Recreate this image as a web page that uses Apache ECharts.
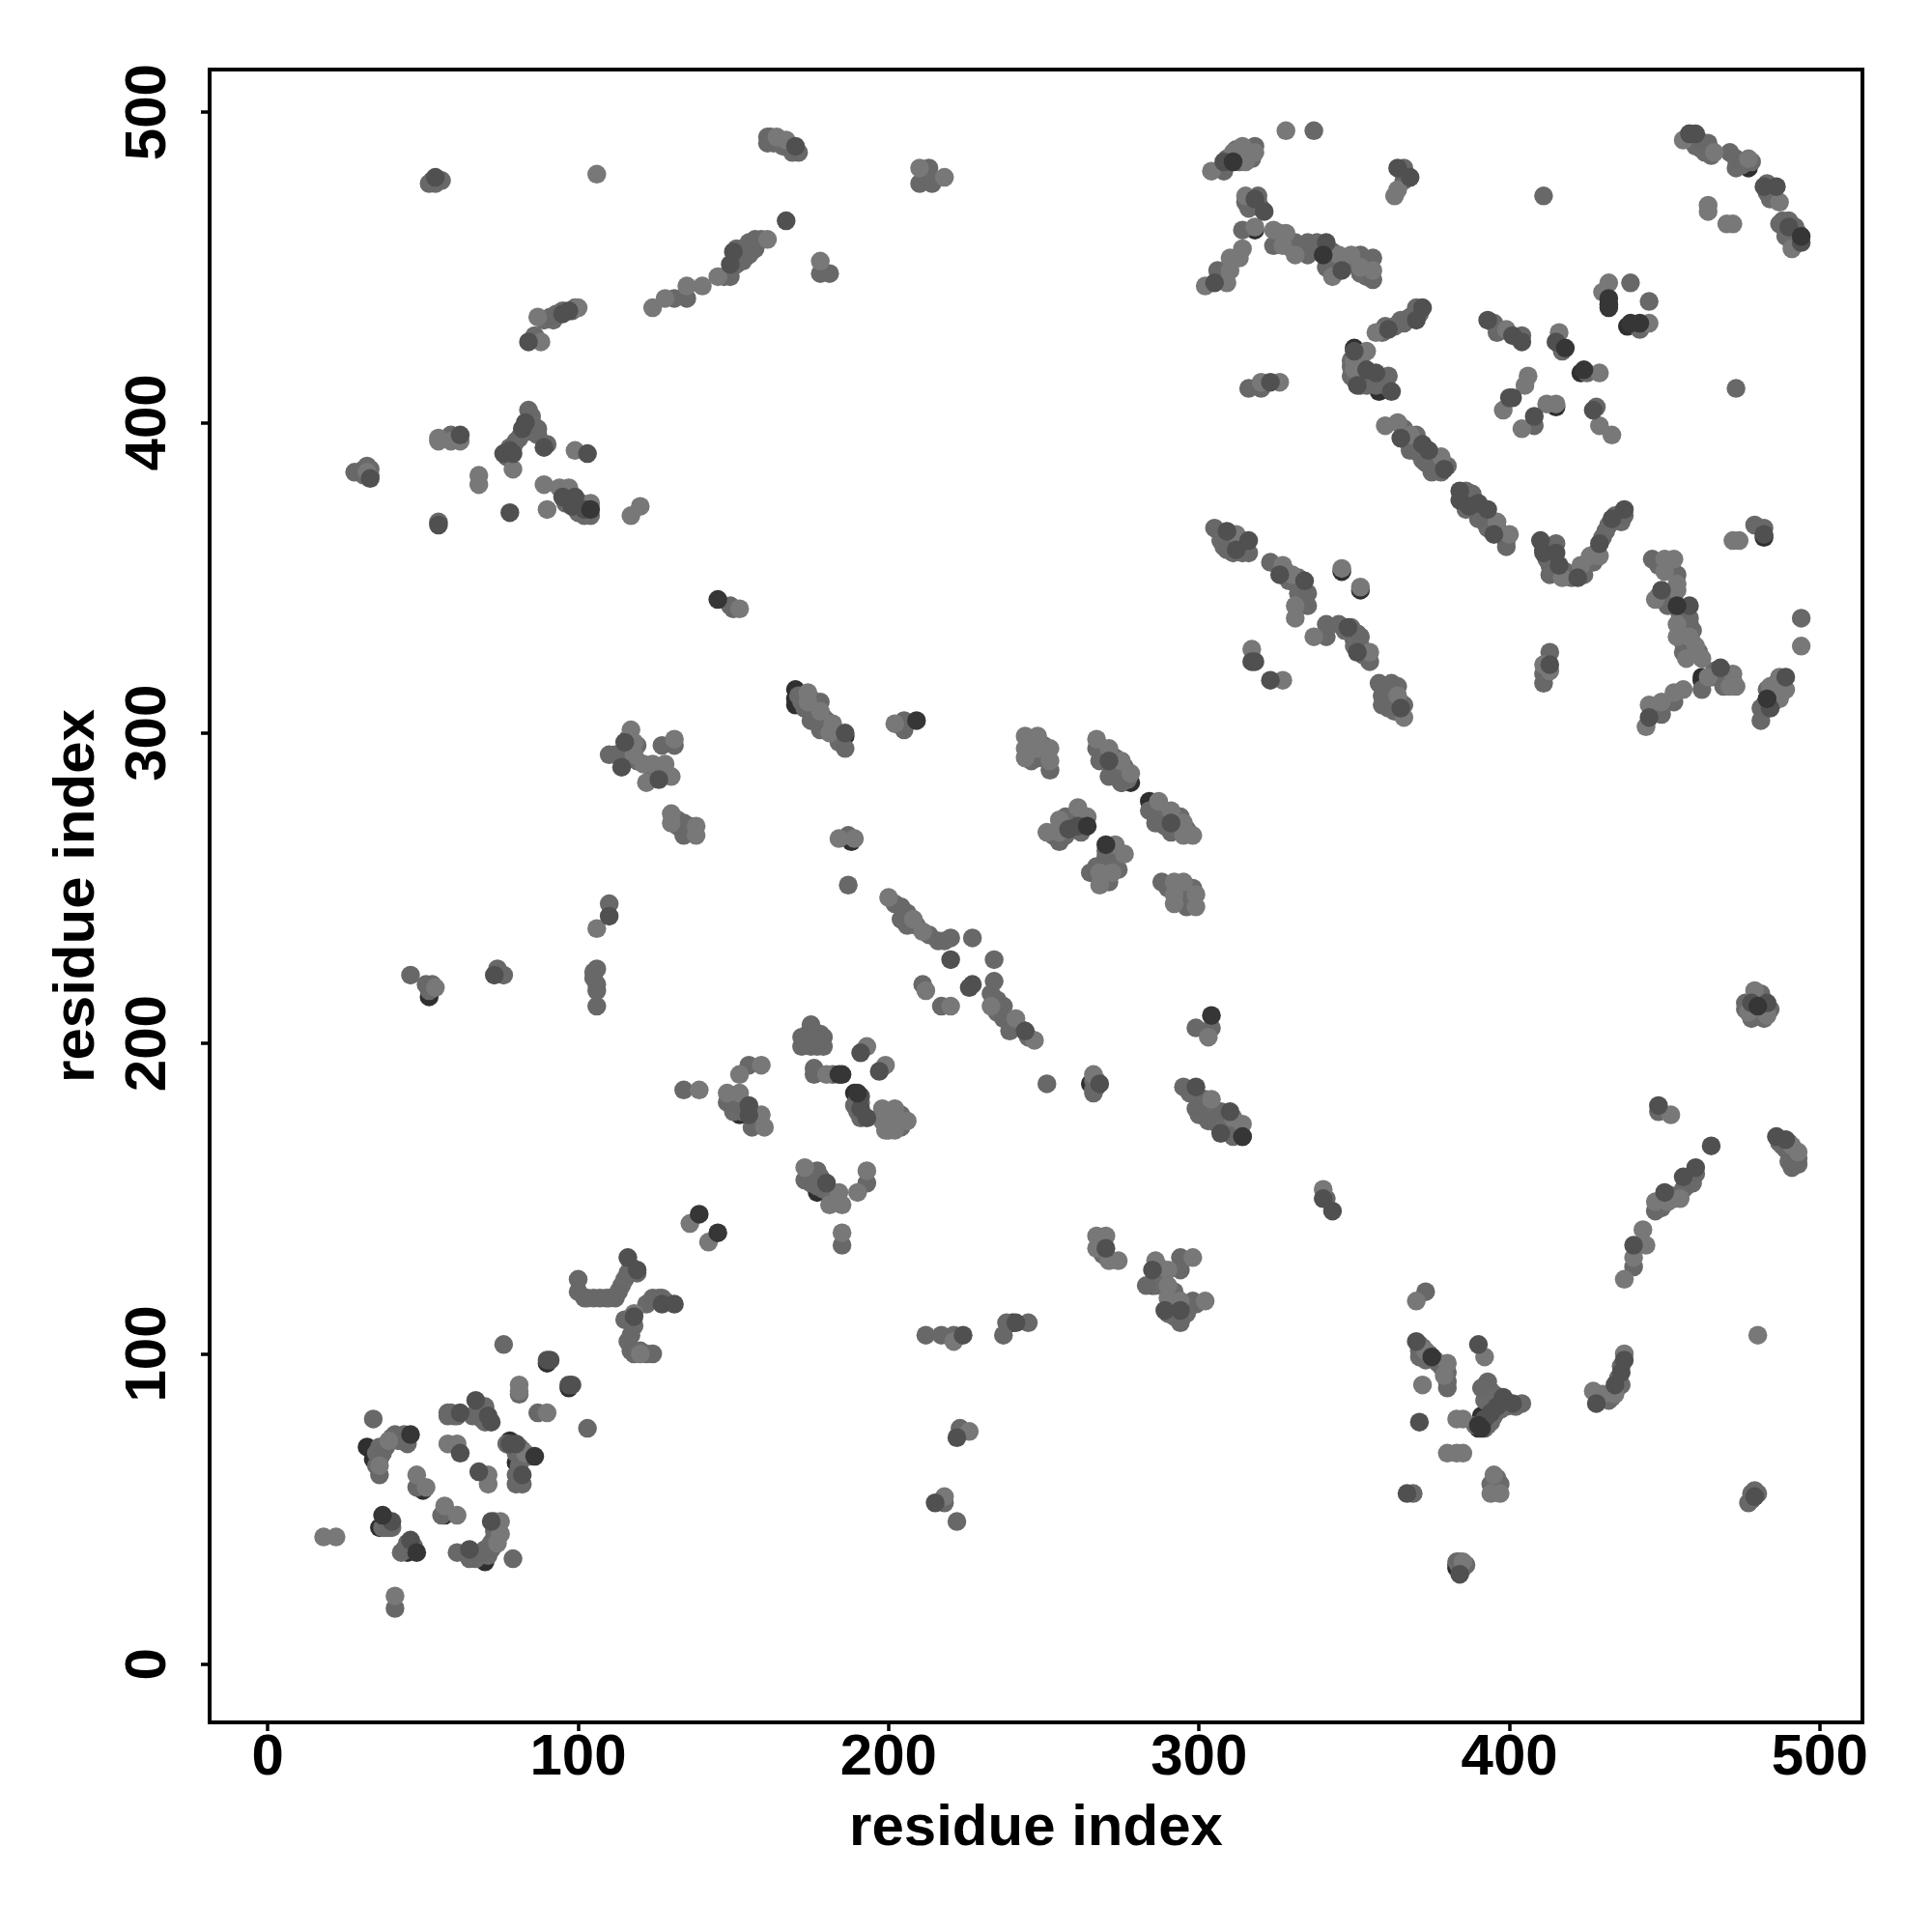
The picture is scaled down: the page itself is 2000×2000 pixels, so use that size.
<!DOCTYPE html>
<html><head><meta charset="utf-8">
<style>html,body{margin:0;padding:0;background:#fff}#c{width:2000px;height:2000px}</style>
<script src="https://cdn.jsdelivr.net/npm/echarts@6/dist/echarts.min.js"></script>
</head><body><div id="c"></div>
<script>
const tickValues=[0,100,200,300,400,500];
const axisTitle="residue index";
const pointsUnder=[[32,70],[34,66],[36,44],[45,36],[50,56],[57,48],[70,33],[69,34],[78,72],[80,65],[90,97],[97,89],[177,152],[152,177],[189,184],[170,314],[170,311],[170,309],[173,308],[186,299],[275,284],[278,284],[284,278],[285,276],[314,170],[318,462],[358,410],[350,424],[372,102],[373,100],[383,31],[383,32],[390,76],[391,80],[432,438],[415,405],[438,431],[462,317],[462,318],[350,330],[330,349],[458,493],[346,352],[352,346],[477,482],[423,416],[188,265],[285,122],[240,110],[265,187],[487,169],[482,363],[52,215],[30,384],[411,359]];
const pointsFill=[[40,73],[42,72],[43,72],[45,73],[38,70],[36,70],[35,68],[36,66],[59,81],[60,80],[61,80],[68,83],[69,79],[70,78],[70,83],[79,70],[81,70],[82,69],[84,67],[81,64],[81,60],[37,44],[38,46],[40,44],[46,37],[47,38],[45,39],[43,36],[67,34],[68,35],[70,37],[71,35],[72,39],[73,41],[74,44],[73,43],[73,46],[103,118],[105,118],[109,118],[110,118],[114,122],[115,124],[117,128],[117,110],[116,104],[118,100],[120,101],[122,100],[126,118],[128,117],[118,109],[122,116],[85,402],[84,398],[85,397],[85,400],[81,395],[78,392],[77,389],[79,392],[96,374],[97,376],[99,373],[101,374],[103,371],[100,371],[102,370],[104,370],[89,433],[92,433],[93,435],[95,436],[98,436],[99,437],[86,428],[147,447],[151,451],[152,453],[155,454],[151,456],[155,458],[159,459],[163,490],[165,490],[166,489],[169,487],[162,492],[165,491],[53,478],[54,477],[56,478],[31,385],[32,386],[33,385],[33,383],[31,383],[171,312],[172,310],[175,311],[176,308],[177,306],[179,305],[180,304],[183,300],[184,297],[176,304],[173,312],[266,188],[267,186],[267,188],[266,185],[297,184],[300,182],[301,178],[303,179],[305,176],[306,174],[308,174],[309,172],[312,172],[313,171],[300,177],[302,180],[383,33],[385,31],[384,31],[386,32],[476,211],[478,210],[482,211],[484,211],[479,215],[481,216],[478,208],[482,208],[478,53],[480,55],[479,56],[487,168],[488,167],[490,168],[491,165],[492,162],[493,161],[490,162],[491,163],[371,103],[372,102],[374,100],[376,98],[371,99],[373,98],[377,97],[379,96],[380,94],[380,91],[393,77],[394,78],[395,80],[397,82],[399,83],[402,83],[397,85],[395,87],[392,85],[394,88],[389,77],[392,76],[396,58],[394,58],[397,58],[396,60],[435,92],[436,90],[433,86],[432,85],[449,147],[452,151],[453,150],[457,154],[458,156],[459,155],[459,491],[462,490],[463,487],[460,489],[462,488],[465,486],[474,484],[475,483],[473,482],[478,484],[483,477],[484,473],[485,475],[484,472],[489,463],[490,461],[491,461],[492,459],[490,465],[493,461],[489,460],[492,458],[412,356],[414,358],[413,360],[417,352],[415,352],[418,352],[420,350],[424,351],[427,355],[428,358],[430,363],[432,367],[434,370],[436,368],[385,376],[386,378],[387,376],[388,374],[389,372],[391,371],[392,368],[393,366],[394,368],[396,366],[397,364],[399,362],[386,372],[390,371],[366,398],[367,394],[370,392],[371,390],[372,388],[374,388],[376,387],[375,384],[377,386],[380,386],[378,384],[370,396],[349,420],[351,422],[349,418],[352,419],[352,415],[355,415],[353,413],[356,414],[358,413],[360,412],[360,414],[352,412],[349,415],[350,414],[359,429],[363,431],[365,433],[368,434],[371,435],[360,431],[316,472],[317,470],[319,471],[320,469],[316,469],[326,459],[329,457],[330,456],[333,456],[336,456],[339,456],[342,452],[344,450],[347,452],[350,451],[354,452],[354,450],[343,455],[352,448],[354,447],[326,461],[313,486],[315,486],[316,487],[317,485],[313,484],[309,485],[312,488],[307,362],[310,363],[311,361],[313,360],[314,362],[308,360],[311,358],[314,358],[328,352],[329,349],[332,350],[333,347],[332,345],[333,343],[347,333],[349,334],[351,332],[350,328],[352,328],[353,325],[350,331],[360,315],[361,312],[363,310],[361,308],[362,312],[363,307],[366,309],[364,315],[455,338],[456,340],[457,339],[455,333],[456,329],[456,326],[459,329],[459,326],[456,332],[457,335],[459,333],[461,326],[448,344],[450,343],[452,342],[452,345],[453,344],[451,354],[448,354],[452,354],[465,318],[469,319],[470,316],[469,315],[472,317],[466,320],[483,314],[485,312],[486,316],[488,316],[485,310],[482,309],[486,314],[246,297],[246,293],[250,293],[250,296],[246,291],[269,293],[272,288],[273,292],[276,287],[277,285],[273,286],[276,289],[286,276],[288,275],[288,272],[292,272],[293,269],[296,269],[294,273],[289,270],[257,271],[259,271],[260,270],[262,272],[262,268],[253,267],[257,267],[257,273],[270,262],[271,258],[269,254],[271,252],[267,257],[274,256],[271,261],[294,249],[294,246],[297,246],[298,250],[290,250],[116,295],[119,291],[112,293],[115,291],[116,298],[125,288],[128,287],[124,286],[119,296],[132,270],[136,268],[136,270],[132,272],[202,245],[206,242],[209,238],[213,235],[206,238],[218,233],[235,214],[235,210],[239,207],[242,205],[245,202],[174,203],[174,201],[176,203],[177,199],[178,203],[200,177],[200,174],[204,177],[204,173],[200,172],[175,158],[178,157],[179,153],[182,151],[183,149],[175,155],[150,182],[150,178],[153,178],[157,175],[158,174],[190,182],[191,181],[190,178],[287,128],[288,124],[286,122],[292,120],[296,116],[292,115],[296,113],[299,116],[290,113],[292,112],[268,136],[269,136],[269,132],[106,219],[105,223],[52,217],[53,219]];
const pointsMid=[[76,103],[81,87],[87,81],[103,76],[34,79],[36,61],[35,64],[37,68],[41,74],[44,74],[45,71],[58,81],[58,80],[66,80],[69,81],[80,68],[80,58],[82,58],[80,61],[77,71],[48,57],[56,48],[39,44],[38,44],[44,37],[61,36],[65,36],[65,34],[69,36],[72,37],[79,34],[41,18],[100,124],[100,120],[102,118],[107,118],[112,118],[113,120],[116,126],[115,111],[117,106],[117,101],[124,100],[119,126],[127,118],[124,118],[134,185],[148,181],[152,180],[155,193],[156,173],[175,206],[172,202],[172,199],[175,199],[179,202],[179,199],[177,201],[176,192],[176,190],[182,190],[189,180],[191,176],[173,156],[177,159],[177,154],[193,155],[185,135],[46,222],[51,219],[74,224],[76,222],[106,224],[105,221],[106,217],[106,212],[110,245],[52,477],[55,478],[161,492],[171,487],[161,490],[168,489],[213,482],[210,477],[214,477],[212,480],[157,459],[157,456],[153,456],[153,452],[149,447],[135,440],[131,440],[178,448],[181,448],[91,434],[28,384],[59,396],[84,404],[87,398],[80,394],[90,393],[87,396],[100,373],[55,368],[149,341],[150,340],[173,308],[175,304],[178,310],[178,301],[186,295],[205,304],[205,301],[110,293],[113,293],[127,296],[131,296],[134,271],[134,267],[187,267],[187,251],[204,244],[204,240],[216,233],[220,234],[227,234],[234,227],[234,220],[233,216],[237,212],[237,208],[239,204],[211,219],[217,212],[252,288],[248,292],[267,295],[268,291],[271,286],[275,284],[284,275],[286,271],[291,268],[255,265],[270,260],[265,255],[270,257],[288,252],[296,248],[296,244],[299,205],[304,205],[251,187],[266,184],[295,186],[299,179],[302,182],[303,175],[307,178],[311,170],[341,150],[283,122],[294,131],[294,127],[294,110],[298,117],[237,106],[238,110],[245,110],[212,106],[217,106],[221,106],[223,76],[218,52],[222,46],[371,101],[378,96],[380,89],[373,120],[393,91],[391,89],[404,84],[369,55],[384,33],[436,96],[440,128],[447,146],[456,153],[460,158],[448,178],[491,160],[493,163],[489,166],[476,213],[478,55],[477,52],[337,494],[308,481],[318,489],[366,482],[366,478],[411,473],[319,473],[315,471],[318,470],[314,462],[306,449],[324,457],[331,458],[335,458],[335,454],[338,458],[341,450],[352,454],[356,453],[356,446],[370,437],[366,432],[361,415],[354,412],[357,412],[316,411],[320,411],[395,432],[396,429],[404,428],[417,423],[408,399],[461,491],[464,490],[471,487],[473,485],[483,474],[488,465],[492,463],[487,464],[439,445],[445,439],[442,430],[425,416],[428,405],[473,411],[368,391],[373,387],[376,385],[388,377],[390,369],[399,360],[305,366],[309,359],[316,358],[323,355],[335,345],[335,341],[341,335],[345,335],[341,331],[352,331],[355,323],[358,316],[362,316],[359,309],[359,312],[415,361],[413,354],[413,351],[431,365],[437,370],[479,367],[482,366],[446,356],[454,351],[451,341],[458,337],[458,335],[457,327],[462,314],[468,318],[453,310],[449,306],[413,326],[411,319],[411,316],[494,337],[481,308],[481,304]];
const pointsLight=[[81,90],[81,88],[90,81],[36,64],[39,72],[48,61],[51,57],[57,51],[61,48],[18,41],[22,41],[41,22],[58,71],[61,71],[71,61],[71,58],[75,42],[75,46],[74,39],[83,68],[120,100],[118,113],[139,185],[159,193],[152,190],[148,184],[152,184],[159,177],[160,173],[180,190],[193,199],[199,193],[198,179],[202,179],[198,175],[202,175],[206,175],[199,172],[202,172],[173,160],[181,148],[184,152],[185,148],[193,159],[190,152],[185,139],[136,142],[142,136],[54,218],[106,237],[106,480],[164,492],[167,491],[210,482],[218,479],[161,459],[145,447],[140,444],[135,444],[128,440],[124,437],[178,452],[100,437],[87,434],[88,426],[32,384],[55,395],[62,394],[59,394],[55,394],[68,383],[68,380],[79,385],[99,391],[89,380],[94,379],[97,379],[104,374],[90,372],[117,370],[120,373],[152,340],[174,313],[178,307],[182,303],[181,300],[174,310],[202,303],[117,301],[118,297],[118,293],[121,290],[124,290],[128,290],[131,298],[122,284],[130,286],[130,274],[130,271],[138,270],[138,267],[184,266],[189,266],[200,247],[208,240],[211,236],[233,212],[241,208],[247,201],[212,217],[220,212],[244,299],[248,299],[244,295],[248,295],[252,295],[244,292],[252,291],[267,298],[271,295],[275,291],[278,287],[287,278],[291,275],[295,271],[295,267],[298,267],[261,276],[264,273],[255,272],[255,268],[251,268],[273,264],[276,261],[268,255],[272,255],[268,251],[292,252],[295,252],[292,248],[299,248],[292,245],[299,244],[303,202],[266,190],[304,182],[311,176],[314,174],[340,153],[267,138],[270,138],[267,134],[271,130],[274,130],[286,130],[290,127],[290,122],[298,131],[290,118],[294,117],[302,117],[221,104],[226,75],[218,54],[373,101],[380,97],[379,93],[372,90],[370,117],[392,99],[383,79],[385,79],[380,68],[383,68],[385,68],[395,61],[394,55],[397,55],[385,33],[427,88],[430,87],[434,87],[437,100],[437,124],[440,131],[444,135],[443,140],[447,149],[451,149],[455,150],[452,177],[491,167],[493,165],[479,217],[477,210],[483,209],[480,106],[328,494],[304,481],[311,487],[314,489],[315,484],[318,487],[363,473],[364,475],[315,473],[318,463],[314,456],[310,453],[313,453],[310,449],[302,444],[309,445],[324,462],[328,461],[327,457],[331,454],[343,447],[345,454],[349,454],[352,450],[356,449],[357,429],[354,423],[350,420],[350,417],[320,413],[326,413],[399,430],[416,429],[406,415],[405,412],[398,404],[412,406],[415,406],[404,398],[456,491],[466,487],[477,485],[487,471],[491,456],[464,470],[464,468],[470,464],[472,464],[432,445],[430,442],[445,432],[429,416],[429,399],[433,396],[360,399],[364,400],[368,396],[378,389],[396,368],[400,364],[312,364],[327,354],[330,351],[331,341],[331,337],[337,331],[355,326],[364,312],[366,305],[317,327],[327,317],[417,350],[423,354],[426,357],[429,357],[474,362],[472,362],[450,356],[453,356],[450,352],[454,348],[454,346],[447,343],[454,335],[454,331],[458,331],[460,328],[457,324],[462,324],[464,318],[472,319],[471,315],[473,315],[456,314],[453,313],[449,310],[445,309],[444,302],[411,322],[413,320],[494,328],[487,318],[484,315],[489,314],[487,311],[346,353],[352,347]];
const pointsDark=[[90,98],[91,98],[98,90],[97,90],[62,81],[67,85],[71,80],[72,78],[62,68],[80,71],[78,71],[82,61],[68,62],[40,46],[46,40],[72,46],[65,37],[116,131],[127,116],[131,116],[118,112],[119,127],[155,180],[155,177],[191,197],[197,191],[191,183],[191,179],[193,176],[180,155],[73,222],[110,241],[54,479],[170,489],[167,465],[150,455],[149,451],[97,436],[95,435],[84,426],[33,382],[62,396],[83,400],[82,398],[78,391],[76,390],[79,390],[89,392],[103,390],[95,376],[99,376],[98,373],[102,372],[78,371],[55,367],[186,300],[115,297],[114,289],[126,285],[220,227],[227,219],[244,204],[226,218],[271,291],[291,271],[261,270],[258,269],[268,187],[299,186],[310,178],[307,171],[343,146],[340,150],[270,134],[285,127],[289,114],[294,114],[241,110],[224,106],[222,73],[215,52],[370,104],[371,78],[390,103],[398,86],[401,84],[396,83],[394,81],[392,79],[367,55],[384,29],[428,84],[434,90],[436,94],[437,98],[440,135],[450,152],[456,157],[460,160],[465,167],[448,180],[486,170],[489,169],[483,213],[478,213],[479,54],[308,484],[364,482],[368,479],[321,468],[318,472],[305,445],[341,458],[346,449],[372,437],[370,433],[361,430],[350,423],[354,417],[357,416],[351,412],[362,410],[323,413],[393,433],[401,428],[404,426],[415,426],[400,408],[401,408],[408,402],[458,493],[460,493],[482,476],[486,476],[490,463],[494,458],[427,404],[365,395],[372,393],[374,391],[379,385],[384,378],[384,375],[387,373],[390,374],[393,372],[395,364],[309,365],[312,359],[316,362],[326,351],[334,349],[348,334],[351,326],[317,323],[318,323],[323,317],[365,308],[410,362],[411,358],[415,358],[416,354],[422,350],[429,361],[433,369],[437,372],[482,364],[449,346],[458,341],[468,321],[445,305],[413,322],[489,318],[484,308]];
const pointsTop=[[46,74],[48,36],[86,67],[37,48],[184,190],[185,190],[190,184],[139,145],[145,139],[104,372],[145,343],[209,304],[264,270],[270,264],[304,209],[314,170],[375,99],[390,77],[391,76],[480,212],[311,484],[340,454],[418,424],[494,460],[432,440],[432,437],[439,432],[442,432],[424,417],[454,341],[483,311]];
const chart=echarts.init(document.getElementById('c'),null,{renderer:'canvas'});
const fontBase={fontFamily:'"Liberation Sans",Arial,sans-serif',fontWeight:'bold',fontSize:60,color:'#000'};
function layer(d,c){return {type:'scatter',data:d,symbol:'circle',symbolSize:19.5,silent:true,animation:false,itemStyle:{color:c,opacity:1}};}
function axis(extra){return Object.assign({type:'value',min:-18.72,max:513.72,nameLocation:'middle',name:axisTitle,
 nameTextStyle:Object.assign({},fontBase),splitLine:{show:false},
 axisLine:{show:false,onZero:false},axisTick:{show:true,inside:false,length:9,lineStyle:{color:'#000',width:3.5},customValues:tickValues},
 axisLabel:Object.assign({},fontBase,{customValues:tickValues,margin:7,hideOverlap:false,showMinLabel:true,showMaxLabel:true})},extra);}
chart.setOption({animation:false,backgroundColor:'#fff',
 grid:{left:217,top:72,width:1711,height:1711,show:true,borderColor:'#000',borderWidth:4,backgroundColor:'transparent'},
 xAxis:axis({nameGap:80}),
 yAxis:(function(){const a=axis({nameGap:107});a.axisLabel.rotate=90;a.axisLabel.margin=33;return a;})(),
 series:[layer(pointsUnder,'#2f2f2f'),layer(pointsFill,'#6a6a6a'),layer(pointsMid,'#686868'),layer(pointsLight,'#787878'),layer(pointsDark,'#505050'),layer(pointsTop,'#363636')]});
</script></body></html>
